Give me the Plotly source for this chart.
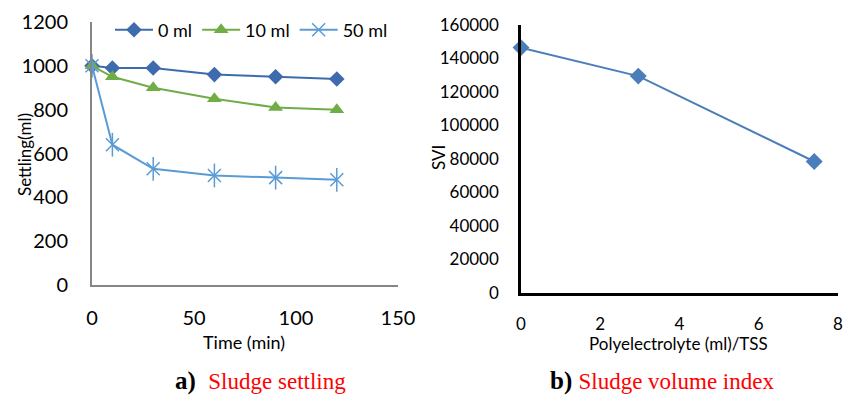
import plotly.graph_objects as go

# Sludge settling over time for three polyelectrolyte doses
time_min = [0, 10, 30, 60, 90, 120]
settling_0ml = [1000, 990, 990, 960, 950, 940]
settling_10ml = [1000, 950, 900, 850, 810, 800]
settling_50ml = [1000, 640, 530, 500, 490, 480]

# Sludge volume index against polyelectrolyte dose per TSS
poly_per_tss = [0, 2.96, 7.4]
svi_values = [146500, 129500, 78500]

W, H = 856, 398
FONT = "Lato"


def px_x(p):
    return p / W


def px_y(p):
    return 1 - p / H


fig = go.Figure()

# Left panel: settling curves
fig.add_trace(go.Scatter(
    x=time_min, y=settling_0ml, name="0 ml", mode="lines+markers",
    line=dict(color="#3E6BAD", width=2),
    marker=dict(symbol="diamond", size=12, color="#3E6BAD"),
    xaxis="x", yaxis="y", cliponaxis=False,
))
fig.add_trace(go.Scatter(
    x=time_min, y=settling_10ml, name="10 ml", mode="lines+markers",
    line=dict(color="#70AD47", width=2),
    marker=dict(symbol="triangle-up", size=13, color="#70AD47"),
    xaxis="x", yaxis="y", cliponaxis=False,
))
fig.add_trace(go.Scatter(
    x=time_min, y=settling_50ml, name="50 ml", mode="lines+markers",
    line=dict(color="#5B9BD5", width=2),
    marker=dict(symbol="x-thin-open", size=13, color="#5B9BD5",
                line=dict(color="#5B9BD5", width=1.5)),
    xaxis="x", yaxis="y", cliponaxis=False, legendgroup="50",
))
# vertical stroke completing the star marker
fig.add_trace(go.Scatter(
    x=time_min, y=settling_50ml, mode="markers", showlegend=False,
    marker=dict(symbol="line-ns-open", size=17, color="#5B9BD5",
                line=dict(color="#5B9BD5", width=1.5)),
    xaxis="x", yaxis="y", cliponaxis=False, legendgroup="50",
    hoverinfo="skip",
))

# Right panel: SVI
fig.add_trace(go.Scatter(
    x=poly_per_tss, y=svi_values, mode="lines+markers", showlegend=False,
    line=dict(color="#4A7EBB", width=2),
    marker=dict(symbol="diamond", size=13, color="#4A7EBB"),
    xaxis="x2", yaxis="y2", cliponaxis=False,
))

axis_common = dict(showgrid=False, zeroline=False, ticks="", showline=True,
                   automargin=False)

fig.update_layout(
    width=W, height=H,
    margin=dict(l=0, r=0, t=0, b=0, autoexpand=False),
    paper_bgcolor="white", plot_bgcolor="white",
    showlegend=True,
    legend=dict(
        orientation="h", x=px_x(110), y=px_y(30), xanchor="left",
        yanchor="middle", font=dict(family=FONT, size=18, color="black"),
        bgcolor="rgba(0,0,0,0)", itemwidth=38,
    ),
    xaxis=dict(
        domain=[px_x(92), px_x(398)], range=[0, 150], dtick=50,
        linecolor="#868686", linewidth=2, anchor="y",
        tickfont=dict(family=FONT, size=20, color="black"),
        ticklabelstandoff=14, **axis_common,
    ),
    yaxis=dict(
        domain=[px_y(285), px_y(22)], range=[0, 1200], dtick=200,
        linecolor="#868686", linewidth=2, anchor="x",
        tickfont=dict(family=FONT, size=20, color="black"),
        ticklabelstandoff=18, **axis_common,
    ),
    xaxis2=dict(
        domain=[px_x(521), px_x(838)], range=[0, 8], dtick=2,
        linecolor="black", linewidth=2.5, anchor="y2",
        tickfont=dict(family=FONT, size=17, color="black"),
        ticklabelstandoff=14, **axis_common,
    ),
    yaxis2=dict(
        domain=[px_y(293), px_y(25)], range=[0, 160000], dtick=20000,
        tickformat=".0f",
        linecolor="black", linewidth=2.5, anchor="x2",
        tickfont=dict(family=FONT, size=17, color="black"),
        ticklabelstandoff=16, **axis_common,
    ),
)

label_font = dict(family=FONT, size=17, color="black")
annotations = [
    dict(text="Settling(ml)", x=px_x(24), y=px_y(155), textangle=-90,
         font=label_font),
    dict(text="Time (min)", x=px_x(244), y=px_y(342),
         font=dict(family=FONT, size=18, color="black")),
    dict(text="SVI", x=px_x(438), y=px_y(158), textangle=-90,
         font=label_font),
    dict(text="Polyelectrolyte (ml)/TSS", x=px_x(678), y=px_y(343),
         font=label_font),
    dict(text="<b>a)</b>  <span style='color:#FF0000;font-size:23px;font-weight:normal'>Sludge settling</span>",
         x=px_x(260), y=px_y(381),
         font=dict(family="Liberation Serif", size=25, color="black")),
    dict(text="<b>b)</b> <span style='color:#FF0000;font-size:23px;font-weight:normal'>Sludge volume index</span>",
         x=px_x(662), y=px_y(381),
         font=dict(family="Liberation Serif", size=25, color="black")),
]
for a in annotations:
    a.update(xref="paper", yref="paper", showarrow=False,
             xanchor="center", yanchor="middle")
fig.update_layout(annotations=annotations)

fig.write_html("out.html")
